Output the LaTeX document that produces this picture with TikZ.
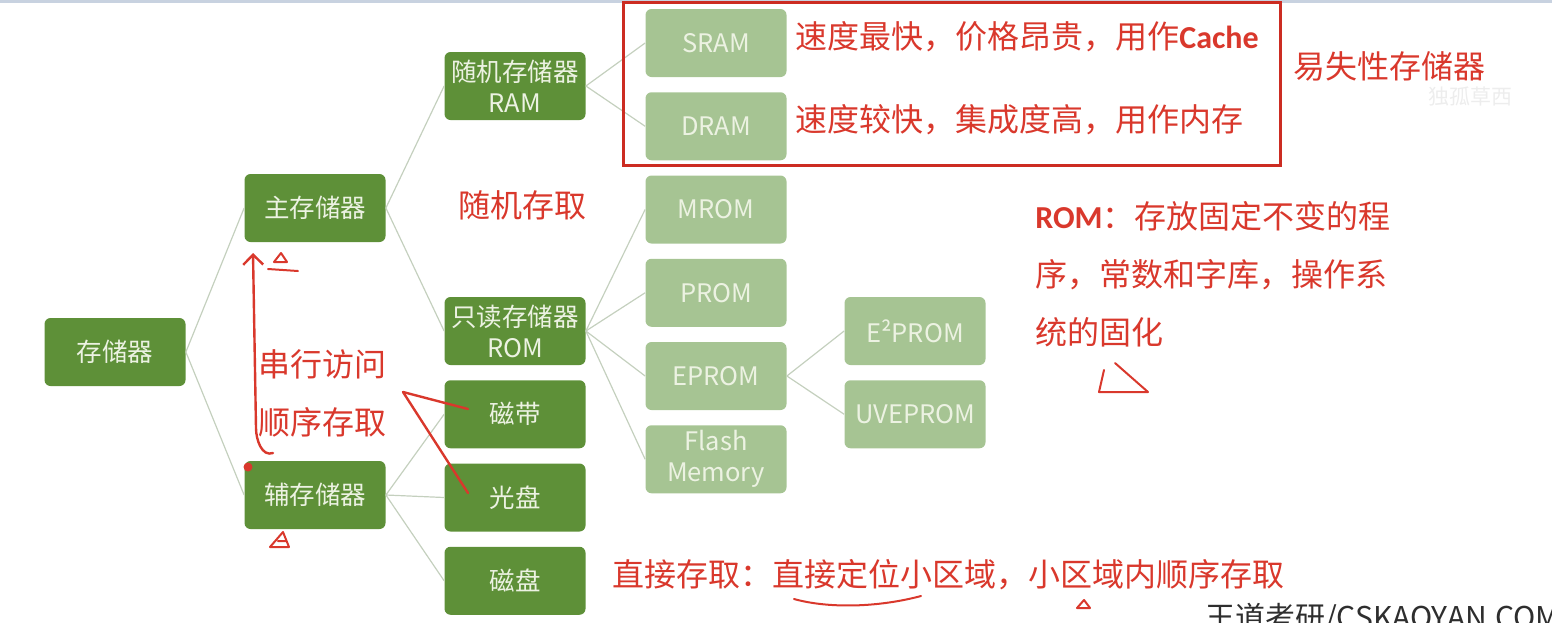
\documentclass[tikz,border=0pt]{standalone}
\usepackage{fontspec}
\setmainfont{Noto Sans CJK SC}
\newfontfamily\latinbold{Carlito}[BoldFont=Carlito Bold]
\usetikzlibrary{arrows.meta,positioning,calc}
\definecolor{darkleaf}{RGB}{94,144,56}
\definecolor{paleleaf}{RGB}{166,196,147}
\definecolor{leaftext}{RGB}{236,242,226}
\definecolor{linkgray}{RGB}{196,208,190}
\definecolor{penred}{RGB}{217,56,44}
\definecolor{boxred}{RGB}{204,44,34}
\definecolor{topline}{RGB}{200,210,224}
\tikzset{every picture/.style={line width=0.75pt}}
\tikzset{
  darkbox/.style={fill=darkleaf, rounded corners=6pt, minimum width=141pt, minimum height=68pt,
    text=leaftext, font=\fontsize{25.5}{31}\selectfont, align=center, inner sep=0pt},
  palebox/.style={darkbox, fill=paleleaf},
  link/.style={draw=linkgray, line width=1.2pt},
  note/.style={text=penred, font=\fontsize{32}{58}\selectfont, inner sep=0pt, anchor=west},
  pen/.style={draw=penred, line width=2.4pt, line cap=round, line join=round},
}
\newcommand{\boldlatin}[1]{{\latinbold\bfseries #1}}

\begin{document}
\begin{tikzpicture}[x=1pt,y=-1pt]
    \useasboundingbox (0,0) rectangle (1552,622);
    \draw[topline, line width=3pt] (0,1.5) -- (1552,1.5);

    % tree
    \node[darkbox] (store) at (115,352) {存储器};
    \node[darkbox] (main) at (315,208) {主存储器};
    \node[darkbox] (aux) at (315,495) {辅存储器};
    \node[darkbox] (ram) at (515,86) {随机存储器\\RAM};
    \node[darkbox] (rom) at (515,331) {只读存储器\\ROM};
    \node[darkbox, below=14.5pt of rom] (tape) {磁带};
    \node[darkbox, below=14.5pt of tape] (cd) {光盘};
    \node[darkbox, below=14.5pt of cd] (disk) {磁盘};
    \node[palebox] (sram) at (716,43) {SRAM};
    \node[palebox, below=14.5pt of sram] (dram) {DRAM};
    \node[palebox, below=14.5pt of dram] (mrom) {MROM};
    \node[palebox, below=14.5pt of mrom] (prom) {PROM};
    \node[palebox, below=14.5pt of prom] (eprom) {EPROM};
    \node[palebox, below=14.5pt of eprom] (flash) {Flash\\Memory};
    \node[palebox] (eeprom) at (915,331) {E²PROM};
    \node[palebox, below=14.5pt of eeprom] (uveprom) {UVEPROM};
    \foreach \a/\b in {store/main, store/aux, main/ram, main/rom, aux/tape, aux/cd, aux/disk,
        ram/sram, ram/dram, rom/mrom, rom/prom, rom/eprom, rom/flash, eprom/eeprom, eprom/uveprom}
        \draw[link] (\a.east) -- (\b.west);

    % notes
    \draw[boxred, line width=3pt] (623,2) rectangle (1280,165);
    \node[note] (sramnote) at (795,37) {速度最快，价格昂贵，用作\boldlatin{Cache}};
    \node[note] (dramnote) at (795,120) {速度较快，集成度高，用作内存};
    \node[note] (volatile) at (1293,66) {易失性存储器};
    \node[note] (random) at (458,205) {随机存取};
    \node[note, align=left, anchor=north west] (romnote) at (1035,201)
        {\boldlatin{ROM}：存放固定不变的程\\序，常数和字库，操作系\\统的固化};
    \node[note, align=left, anchor=north west] (serial) at (258,349) {串行访问\\顺序存取};
    \node[note] (direct) at (612,575) {直接存取：直接定位小区域，小区域内顺序存取};
    \node[text=black!7, font=\fontsize{21}{21}\selectfont] (mark) at (1470,96) {独孤草西};
    \node[anchor=north west, inner sep=0pt, text=black!82, font=\fontsize{30}{30}\selectfont]
        (site) at (1205,603) {王道考研/CSKAOYAN.COM};

    % pen marks
    \coordinate (foot) at (273,453);
    \coordinate (tip) at (253,253);
    \coordinate (tick) at (403,392);
    \draw[pen, -{Straight Barb[length=10pt,width=20pt]}] (foot) to[out=200,in=-90] (256,428) -- (tip);
    \draw[pen] (tick) -- (468,409);
    \draw[pen] (tick) -- (468,493);
    \fill[penred] (248,467) circle (4.5pt);
    \draw[pen, line width=2pt] (274,262) -- (281,253) -- (287,262) -- cycle (268,269) -- (298,271);
    \draw[pen, line width=2pt] (270,547) -- (283,532) -- (289,547) -- cycle (278,541) -- (286,541);
    \draw[pen, line width=2pt] (1115,363) -- (1148,392) -- (1099,392) -- (1104,370);
    \draw[pen, line width=2pt] (794,599) .. controls (830,609) and (880,607) .. (921,596);
    \draw[pen, line width=2pt] (1077,608) -- (1084,600) -- (1090,608) -- cycle;
\end{tikzpicture}
\end{document}
